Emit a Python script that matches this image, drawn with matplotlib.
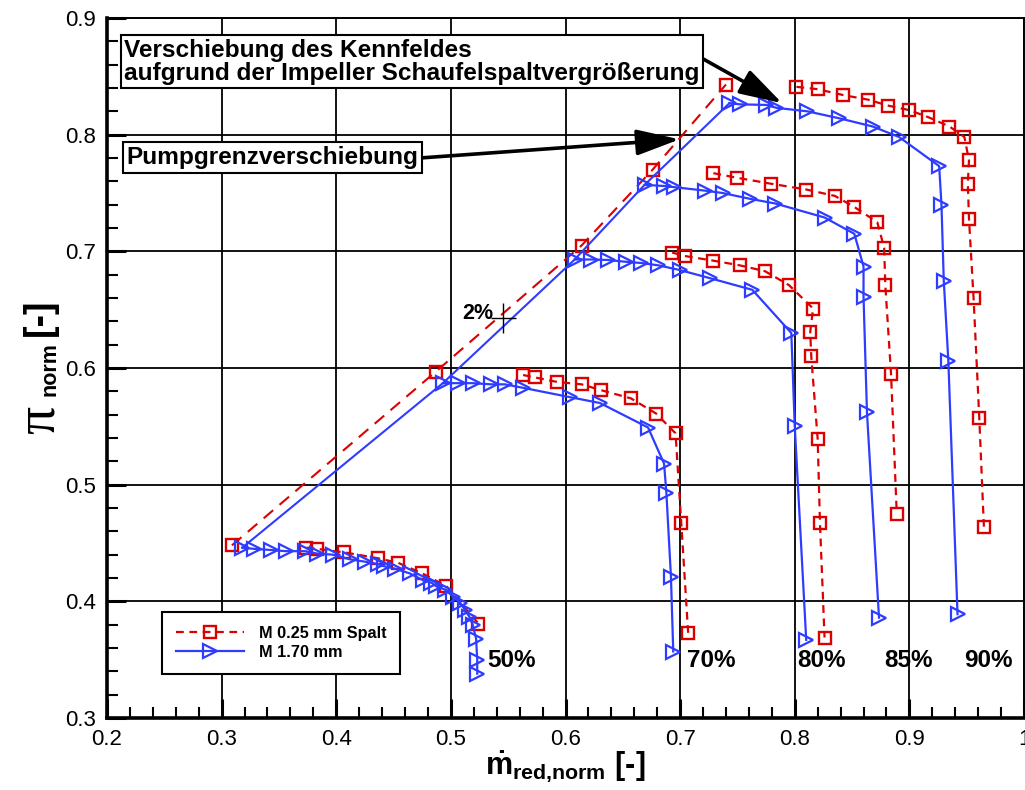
import matplotlib
matplotlib.use("Agg")
import matplotlib.pyplot as plt
from matplotlib.lines import Line2D
from matplotlib.ticker import MultipleLocator, FuncFormatter

# ---------------- data ----------------
# M 0.25 mm Spalt: surge points (first stable point of each speed line)
surge_red_x = [0.309, 0.487, 0.614, 0.676, 0.740]
surge_red_y = [0.448, 0.597, 0.705, 0.770, 0.843]

# M 0.25 mm Spalt: speed lines (after the surge point)
red_50_x = [0.374, 0.383, 0.407, 0.436, 0.454, 0.475, 0.496, 0.524]
red_50_y = [0.446, 0.445, 0.442, 0.437, 0.433, 0.424, 0.413, 0.381]
red_70_x = [0.563, 0.573, 0.593, 0.614, 0.631, 0.657, 0.679, 0.696, 0.701, 0.707]
red_70_y = [0.594, 0.592, 0.588, 0.586, 0.581, 0.574, 0.561, 0.544, 0.467, 0.373]
red_80_x = [0.693, 0.704, 0.729, 0.752, 0.774, 0.795, 0.816, 0.8135, 0.8144, 0.820, 0.822, 0.826]
red_80_y = [0.699, 0.696, 0.692, 0.688, 0.683, 0.671, 0.651, 0.631, 0.610, 0.539, 0.467, 0.369]
red_85_x = [0.729, 0.750, 0.779, 0.810, 0.835, 0.852, 0.872, 0.878, 0.879, 0.884, 0.889]
red_85_y = [0.767, 0.763, 0.758, 0.753, 0.7475, 0.738, 0.725, 0.703, 0.671, 0.595, 0.475]
red_90_x = [0.8015, 0.820, 0.842, 0.864, 0.881, 0.900, 0.9165, 0.935, 0.948, 0.952, 0.951, 0.952,
            0.956, 0.961, 0.965]
red_90_y = [0.841, 0.839, 0.834, 0.830, 0.825, 0.821, 0.815, 0.807, 0.798, 0.778, 0.758, 0.728,
            0.660, 0.557, 0.464]

# M 1.70 mm: speed lines (starting at the surge point)
blue_50_x = [0.318, 0.328, 0.343, 0.356, 0.373, 0.383, 0.397, 0.412, 0.425, 0.436, 0.442, 0.451,
             0.464, 0.476, 0.483, 0.487, 0.495, 0.502, 0.508, 0.512, 0.516, 0.519, 0.522, 0.523, 0.523]
blue_50_y = [0.446, 0.445, 0.444, 0.443, 0.443, 0.441, 0.440, 0.436, 0.434, 0.432, 0.430, 0.428,
             0.424, 0.418, 0.416, 0.413, 0.410, 0.404, 0.399, 0.393, 0.387, 0.380, 0.368, 0.350, 0.338]
blue_70_x = [0.493, 0.506, 0.519, 0.535, 0.547, 0.563, 0.604, 0.630, 0.672, 0.686, 0.688, 0.692, 0.694]
blue_70_y = [0.587, 0.587, 0.587, 0.586, 0.586, 0.583, 0.575, 0.570, 0.549, 0.518, 0.493, 0.421, 0.357]
blue_80_x = [0.608, 0.6225, 0.637, 0.653, 0.666, 0.681, 0.6996, 0.726, 0.763, 0.797, 0.800, 0.810]
blue_80_y = [0.693, 0.693, 0.6926, 0.691, 0.690, 0.688, 0.684, 0.677, 0.667, 0.630, 0.550, 0.367]
blue_85_x = [0.669, 0.686, 0.695, 0.722, 0.737, 0.761, 0.783, 0.826, 0.852, 0.860, 0.860, 0.863, 0.8735]
blue_85_y = [0.757, 0.756, 0.755, 0.752, 0.750, 0.745, 0.741, 0.729, 0.715, 0.687, 0.661, 0.562, 0.386]
blue_90_x = [0.743, 0.752, 0.775, 0.784, 0.811, 0.839, 0.868, 0.891, 0.926, 0.928, 0.930, 0.934, 0.942]
blue_90_y = [0.827, 0.826, 0.8255, 0.823, 0.820, 0.814, 0.807, 0.798, 0.773, 0.740, 0.675, 0.606, 0.389]

speed_labels = ["50%", "70%", "80%", "85%", "90%"]
speed_label_x = [0.532, 0.706, 0.802, 0.878, 0.948]
speed_label_y = 0.349

legend_labels = ["M 0.25 mm Spalt", "M 1.70 mm"]

# uncertainty cross (+/- 2 %)
err_x, err_y, err_rel = 0.5457, 0.643, 0.02

# ---------------- style ----------------
plt.rcParams["font.family"] = ["Liberation Sans", "DejaVu Sans"]
plt.rcParams["mathtext.fontset"] = "custom"
plt.rcParams["mathtext.rm"] = "Liberation Sans:bold"
plt.rcParams["mathtext.sf"] = "Liberation Sans:bold"
plt.rcParams["mathtext.bf"] = "Liberation Sans:bold"
plt.rcParams["mathtext.it"] = "Liberation Sans:bold"

RED = "#dc0000"
BLUE = "#2d3cff"

W, H = 1025, 790
fig = plt.figure(figsize=(W / 100, H / 100), dpi=100)
ax = fig.add_axes([107 / W, 72 / H, 917 / W, 700 / H])

red_kw = dict(color=RED, lw=1.6, ls=(0, (3.5, 2.5)), marker="s", ms=8.3,
              mfc="none", mec=RED, mew=1.7)
blue_kw = dict(color=BLUE, lw=1.6, ls="-", marker=">", ms=10,
               mfc="none", mec=BLUE, mew=1.6)

red_lines = [(red_50_x, red_50_y), (red_70_x, red_70_y), (red_80_x, red_80_y),
             (red_85_x, red_85_y), (red_90_x, red_90_y)]
blue_lines = [(blue_50_x, blue_50_y), (blue_70_x, blue_70_y), (blue_80_x, blue_80_y),
              (blue_85_x, blue_85_y), (blue_90_x, blue_90_y)]

for xs, ys in red_lines:
    ax.plot(xs, ys, zorder=3, **red_kw)
ax.plot(surge_red_x, surge_red_y, color=RED, lw=1.5, ls=(0, (6, 4)), marker="s", ms=8.3,
        mfc="none", mec=RED, mew=1.7, zorder=3)

for xs, ys in blue_lines:
    ax.plot(xs, ys, zorder=4, **blue_kw)
ax.plot([b[0][0] for b in blue_lines], [b[1][0] for b in blue_lines],
        color=BLUE, lw=1.5, zorder=4)

# +/- 2 % cross
ax.errorbar([err_x], [err_y], xerr=[err_x * err_rel], yerr=[err_y * err_rel],
            fmt="none", ecolor="black", elinewidth=1.0, capsize=0, zorder=5)
ax.text(err_x - 0.0085, err_y + 0.004, "2%", ha="right", va="center",
        fontsize=15.5, fontweight="bold", zorder=6)

for lab, lx in zip(speed_labels, speed_label_x):
    ax.text(lx, speed_label_y, lab, ha="left", va="center", fontsize=17.5,
            fontweight="bold", zorder=6)

# annotation boxes and arrows
box = dict(boxstyle="square,pad=0.15", fc="white", ec="black", lw=1.5)
ax.text(0.2150, 0.8625,
        "Verschiebung des Kennfeldes\naufgrund der Impeller Schaufelspaltvergrößerung",
        ha="left", va="center", fontsize=17.6, fontweight="bold", linespacing=1.0,
        bbox=box, zorder=7)
ax.text(0.2170, 0.7805, "Pumpgrenzverschiebung", ha="left", va="center",
        fontsize=17.6, fontweight="bold", bbox=box, zorder=7)

arrow = dict(arrowstyle="-|>,head_length=1.2,head_width=0.36", color="black",
             lw=2.6, mutation_scale=22, shrinkA=0, shrinkB=0)
ax.annotate("", xy=(0.789, 0.827), xytext=(0.717, 0.8666), arrowprops=arrow, zorder=6)
ax.annotate("", xy=(0.6996, 0.796), xytext=(0.473, 0.780), arrowprops=arrow, zorder=6)

# axes
ax.set_xlim(0.2, 1.0)
ax.set_ylim(0.3, 0.9)
ax.xaxis.set_major_locator(MultipleLocator(0.1))
ax.xaxis.set_minor_locator(MultipleLocator(0.02))
ax.yaxis.set_major_locator(MultipleLocator(0.1))
ax.yaxis.set_minor_locator(MultipleLocator(0.02))
fmt = FuncFormatter(lambda v, p: "1" if abs(v - 1) < 1e-9 else "%.1f" % v)
ax.xaxis.set_major_formatter(fmt)
ax.yaxis.set_major_formatter(fmt)
ax.tick_params(which="both", direction="in", top=False, right=False, labelsize=16)
ax.tick_params(which="major", length=14, width=2.2, pad=8)
ax.tick_params(which="minor", length=8, width=1.5)
ax.grid(True, which="major", color="black", lw=1.3)
ax.set_axisbelow(True)
for side in ("left", "bottom"):
    ax.spines[side].set_linewidth(2.6)
for side in ("top", "right"):
    ax.spines[side].set_linewidth(1.4)

# x axis title
ax.set_xlabel(r"$\dot{\mathrm{m}}_{\mathrm{red{,}norm}}\ \mathrm{[\text{-}]}$", fontsize=22, labelpad=0)

# y axis title, assembled from three rotated pieces
fig.text(40 / W, 1 - 420 / H, "π", rotation=90, ha="center", va="center",
         fontsize=40, family="Liberation Serif")
fig.text(50 / W, 1 - 369 / H, "norm", rotation=90, ha="center", va="center",
         fontsize=15.5, fontweight="bold")
fig.text(40 / W, 1 - 317 / H, "[-]", rotation=90, ha="center", va="center",
         fontsize=27, fontweight="bold")

handles = [Line2D([], [], **red_kw), Line2D([], [], **blue_kw)]
leg = ax.legend(handles, legend_labels, loc="upper left", bbox_to_anchor=(0.060, 0.1514),
                borderaxespad=0, frameon=True, fancybox=False, edgecolor="black",
                framealpha=1, handlelength=4.2, handletextpad=0.9, borderpad=0.85,
                labelspacing=0.25, prop=dict(weight="bold", size=11.7))
leg.get_frame().set_linewidth(1.5)
leg.set_zorder(8)

fig.savefig("out.png", dpi=100)
